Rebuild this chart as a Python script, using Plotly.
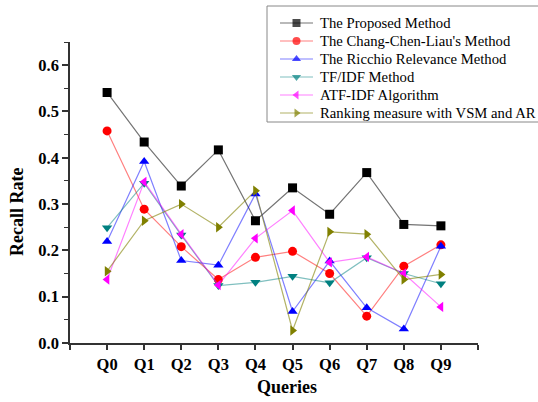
import plotly.graph_objects as go

queries = ["Q0", "Q1", "Q2", "Q3", "Q4", "Q5", "Q6", "Q7", "Q8", "Q9"]
x_pos = [0, 1, 2, 3, 4, 5, 6, 7, 8, 9]

proposed = [0.541, 0.434, 0.339, 0.417, 0.264, 0.335, 0.278, 0.368, 0.256, 0.253]
chang = [0.458, 0.289, 0.208, 0.137, 0.185, 0.198, 0.150, 0.058, 0.166, 0.212]
ricchio = [0.219, 0.392, 0.178, 0.168, 0.322, 0.068, 0.177, 0.076, 0.030, 0.209]
tfidf = [0.249, 0.345, 0.233, 0.124, 0.131, 0.144, 0.130, 0.184, 0.150, 0.128]
atfidf = [0.137, 0.348, 0.235, 0.125, 0.226, 0.286, 0.174, 0.186, 0.150, 0.078]
ranking = [0.155, 0.264, 0.300, 0.250, 0.329, 0.027, 0.240, 0.235, 0.137, 0.148]

series_names = [
    "The Proposed Method",
    "The Chang-Chen-Liau's Method",
    "The Ricchio Relevance Method",
    "TF/IDF Method",
    "ATF-IDF Algorithm",
    "Ranking measure with VSM and AR",
]
series_values = [proposed, chang, ricchio, tfidf, atfidf, ranking]
marker_colors = ["#000000", "#ff0000", "#0000ff", "#008080", "#ff00ff", "#808000"]
line_colors = ["rgba(0,0,0,0.55)", "rgba(255,0,0,0.5)", "rgba(0,0,255,0.5)",
               "rgba(0,128,128,0.5)", "rgba(255,0,255,0.5)", "rgba(128,128,0,0.6)"]
symbols = ["square", "circle", "triangle-up", "triangle-down", "triangle-left", "triangle-right"]

W, H = 538, 402
# plot area in figure pixels
PL, PR, PT, PB = 70, 478, 42, 343

def fx(x):
    return x / W

def fy(y):
    return 1 - y / H

fig = go.Figure()
for name, vals, mcol, lcol, sym in zip(series_names, series_values, marker_colors, line_colors, symbols):
    fig.add_trace(go.Scatter(
        x=x_pos, y=vals, name=name, mode="lines+markers",
        line=dict(color=lcol, width=1.2),
        marker=dict(symbol=sym, size=9, color=mcol, line=dict(width=0)),
        showlegend=False,
    ))

# Manual legend (box, sample lines/markers, labels) on a full-figure pixel overlay axis
fig.add_shape(type="rect", xref="paper", yref="paper",
              x0=fx(267), x1=fx(560), y0=fy(122), y1=fy(6),
              line=dict(color="#888888", width=1), fillcolor="rgba(0,0,0,0)")
row0, row_gap = 23, 18
for i, (name, mcol, lcol, sym) in enumerate(zip(series_names, marker_colors, line_colors, symbols)):
    ry = row0 + row_gap * i
    fig.add_trace(go.Scatter(
        x=[280, 296.5, 313], y=[ry, ry, ry], xaxis="x2", yaxis="y2",
        mode="lines+markers", cliponaxis=False, showlegend=False, hoverinfo="skip",
        line=dict(color=lcol, width=1.2),
        marker=dict(symbol=sym, size=[0, 8, 0], color=mcol, line=dict(width=0)),
    ))
    fig.add_annotation(x=fx(318), y=fy(ry), xref="paper", yref="paper",
                       text=name, showarrow=False, xanchor="left", yanchor="middle",
                       font=dict(family="Liberation Serif", size=14.7, color="black"))

# Axis titles
fig.add_annotation(x=fx(287), y=fy(387), xref="paper", yref="paper",
                   text="<b>Queries</b>", showarrow=False, xanchor="center", yanchor="middle",
                   font=dict(family="Liberation Serif", size=18, color="black"))
fig.add_annotation(x=fx(17), y=fy(212), xref="paper", yref="paper",
                   text="<b>Recall Rate</b>", showarrow=False, textangle=-90,
                   xanchor="center", yanchor="middle",
                   font=dict(family="Liberation Serif", size=18, color="black"))

tickvals = [-1] + x_pos + [10]
ticktext = [""] + queries + [""]

fig.update_layout(
    width=W, height=H,
    margin=dict(l=0, r=0, t=0, b=0, autoexpand=False),
    paper_bgcolor="white", plot_bgcolor="rgba(0,0,0,0)",
    font=dict(family="Liberation Serif", color="black"),
    showlegend=False,
    xaxis=dict(
        domain=[fx(PL), fx(PR)],
        range=[-1, 10], tickmode="array", tickvals=tickvals, ticktext=ticktext,
        showgrid=False, zeroline=False, showline=True, linecolor="#333333", linewidth=1.5,
        ticks="outside", ticklen=5, tickwidth=1.5, tickcolor="#333333",
        tickfont=dict(family="Liberation Serif", size=16.5, color="black", weight="bold"),
    ),
    yaxis=dict(
        domain=[fy(PB), fy(PT)],
        range=[0, 0.65], tickmode="array",
        tickvals=[0, 0.1, 0.2, 0.3, 0.4, 0.5, 0.6],
        ticktext=["0.0", "0.1", "0.2", "0.3", "0.4", "0.5", "0.6"],
        showgrid=False, zeroline=False, showline=True, linecolor="#333333", linewidth=1.5,
        ticks="outside", ticklen=6, tickwidth=1.5, tickcolor="#333333",
        minor=dict(tickvals=[0.05, 0.15, 0.25, 0.35, 0.45, 0.55, 0.65], ticks="outside",
                   ticklen=4, tickwidth=1.2, tickcolor="#333333"),
        tickfont=dict(family="Liberation Serif", size=16.5, color="black", weight="bold"),
    ),
    xaxis2=dict(range=[0, W], domain=[0, 1], anchor="y2",
                visible=False, fixedrange=True),
    yaxis2=dict(range=[H, 0], domain=[0, 1], anchor="x2",
                visible=False, fixedrange=True),
)

fig.write_html("out.html", config={"displayModeBar": False},
               post_script="document.body.style.margin='0';")
